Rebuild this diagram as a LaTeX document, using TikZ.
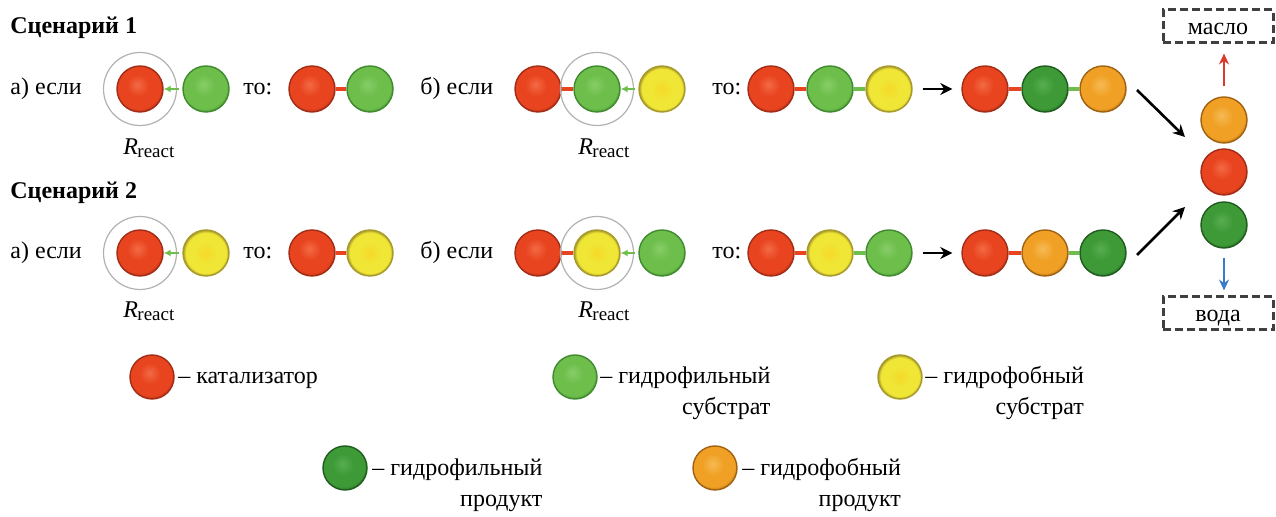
\documentclass[tikz,border=0pt]{standalone}
\usepackage{fontspec}
\setmainfont{Liberation Serif}
\usetikzlibrary{arrows.meta,calc}
\definecolor{cRed}{HTML}{E8441F}
\definecolor{cRedHi}{HTML}{F26A45}
\definecolor{cRedDk}{HTML}{A22C16}
\definecolor{cLG}{HTML}{6DBE4B}
\definecolor{cLGHi}{HTML}{88CD68}
\definecolor{cLGDk}{HTML}{3F8A2E}
\definecolor{cYel}{HTML}{EFE636}
\definecolor{cYelHi}{HTML}{F6D928}
\definecolor{cYelDk}{HTML}{A89A2A}
\definecolor{cDG}{HTML}{3E9A37}
\definecolor{cDGHi}{HTML}{58AD50}
\definecolor{cDGDk}{HTML}{1F5C1E}
\definecolor{cOr}{HTML}{F0A125}
\definecolor{cOrHi}{HTML}{F6BA55}
\definecolor{cOrDk}{HTML}{A06212}
\definecolor{cArR}{HTML}{D93A2A}
\definecolor{cArB}{HTML}{3A7CC8}
\definecolor{cBox}{HTML}{404040}
\pgfdeclareradialshading{shRed}{\pgfpoint{-3bp}{5bp}}{color(0bp)=(cRedHi); color(12bp)=(cRed); color(24bp)=(cRed); color(29bp)=(cRedDk); color(50bp)=(cRedDk)}
\pgfdeclareradialshading{shLG}{\pgfpoint{-3bp}{5bp}}{color(0bp)=(cLGHi); color(12bp)=(cLG); color(24bp)=(cLG); color(29bp)=(cLGDk); color(50bp)=(cLGDk)}
\pgfdeclareradialshading{shYel}{\pgfpoint{0bp}{0bp}}{color(0bp)=(cYelHi); color(12bp)=(cYel); color(22bp)=(cYel); color(25bp)=(cYelDk); color(50bp)=(cYelDk)}
\pgfdeclareradialshading{shDG}{\pgfpoint{-3bp}{5bp}}{color(0bp)=(cDGHi); color(12bp)=(cDG); color(24bp)=(cDG); color(29bp)=(cDGDk); color(50bp)=(cDGDk)}
\pgfdeclareradialshading{shOr}{\pgfpoint{-3bp}{5bp}}{color(0bp)=(cOrHi); color(12bp)=(cOr); color(24bp)=(cOr); color(29bp)=(cOrDk); color(50bp)=(cOrDk)}
\newcommand{\Rreact}{\textit{R}\kern-0.3pt\raisebox{-1.5pt}{\fontsize{9.5}{10}\selectfont react}}
\tikzset{
  ball/.style={circle, minimum size=23pt, inner sep=0pt, line width=0.7pt},
  bred/.style={ball, shading=shRed, draw=cRedDk},
  blg/.style={ball, shading=shLG, draw=cLGDk},
  byel/.style={ball, shading=shYel, draw=cYelDk},
  bdg/.style={ball, shading=shDG, draw=cDGDk},
  bor/.style={ball, shading=shOr, draw=cOrDk},
  small/.style={minimum size=22pt},
  bond/.style={line width=2.2pt},
  rbond/.style={bond, draw=cRed},
  gbond/.style={bond, draw=cLG},
  attr/.style={draw=cLG, line width=1pt, shorten <=1.5pt, -{Latex[length=3.5pt,width=3.5pt]}},
  ring/.style={circle, draw=black!30, line width=0.6pt, minimum size=36.5pt, inner sep=0pt},
  flow/.style={line width=1.3pt, -{Stealth[length=6pt,width=6pt]}},
  vflow/.style={line width=1.4pt, -{Stealth[length=5.5pt,width=5pt]}},
  box/.style={draw=cBox, dash pattern=on 4pt off 2pt, line width=1.5pt, minimum width=55pt, minimum height=16.5pt, inner sep=0pt, text height=8.5pt, text depth=0pt},
  txt/.style={anchor=base west, inner sep=0pt},
  rtxt/.style={anchor=base east, inner sep=0pt},
}
\begin{document}
\begin{tikzpicture}[x=0.5pt, y=-0.5pt, font=\fontsize{12}{14}\selectfont]
\useasboundingbox (0,0) rectangle (1276,517);
% ---------- Scenario 1 ----------
\node[txt] (h1) at (10,34) {\bfseries Сценарий 1};
\node[txt] (a1) at (10,95) {а) если};
\node[bred] (r1a) at (140,89) {};
\node[blg] (g1a) at (206,89) {};
\node[ring] (ring1a) at (r1a.center) {};
\draw[attr] (g1a) -- (r1a);
\node[txt] (rr1a) at (123,155) {\Rreact};
\node[txt] (t1a) at (243,95) {то:};
\node[bred] (r1b) at (312,89) {};
\node[blg] (g1b) at (370,89) {};
\draw[rbond] (r1b) -- (g1b);
\node[txt] (b1) at (420,95) {б) если};
\node[bred] (r1c) at (538,89) {};
\node[blg] (g1c) at (597,89) {};
\node[byel] (y1c) at (662,89) {};
\draw[rbond] (r1c) -- (g1c);
\node[ring] (ring1c) at (g1c.center) {};
\draw[attr] (y1c) -- (g1c);
\node[txt] (rr1c) at (578,155) {\Rreact};
\node[txt] (t1c) at (712,95) {то:};
\node[bred] (r1d) at (771,89) {};
\node[blg] (g1d) at (830,89) {};
\node[byel] (y1d) at (889,89) {};
\draw[rbond] (r1d) -- (g1d);
\draw[gbond] (g1d) -- (y1d);
\node[bred] (r1e) at (985,89) {};
\node[bdg] (d1e) at (1045,89) {};
\node[bor] (o1e) at (1103,89) {};
\draw[rbond] (r1e) -- (d1e);
\draw[gbond] (d1e) -- (o1e);
\draw[flow, shorten <=5pt, shorten >=4.5pt] (y1d) -- (r1e);
% ---------- Scenario 2 ----------
\node[txt] (h2) at (10,199) {\bfseries Сценарий 2};
\node[txt] (a2) at (10,259) {а) если};
\node[bred] (r2a) at (140,253) {};
\node[byel] (y2a) at (206,253) {};
\node[ring] (ring2a) at (r2a.center) {};
\draw[attr] (y2a) -- (r2a);
\node[txt] (rr2a) at (123,318) {\Rreact};
\node[txt] (t2a) at (243,259) {то:};
\node[bred] (r2b) at (312,253) {};
\node[byel] (y2b) at (370,253) {};
\draw[rbond] (r2b) -- (y2b);
\node[txt] (b2) at (420,259) {б) если};
\node[bred] (r2c) at (538,253) {};
\node[byel] (y2c) at (597,253) {};
\node[blg] (g2c) at (662,253) {};
\draw[rbond] (r2c) -- (y2c);
\node[ring] (ring2c) at (y2c.center) {};
\draw[attr] (g2c) -- (y2c);
\node[txt] (rr2c) at (578,318) {\Rreact};
\node[txt] (t2c) at (712,259) {то:};
\node[bred] (r2d) at (771,253) {};
\node[byel] (y2d) at (830,253) {};
\node[blg] (g2d) at (889,253) {};
\draw[rbond] (r2d) -- (y2d);
\draw[gbond] (y2d) -- (g2d);
\node[bred] (r2e) at (985,253) {};
\node[bor] (o2e) at (1045,253) {};
\node[bdg] (d2e) at (1103,253) {};
\draw[rbond] (r2e) -- (o2e);
\draw[gbond] (o2e) -- (d2e);
\draw[flow, shorten <=5pt, shorten >=4.5pt] (g2d) -- (r2e);
% ---------- separation column ----------
\node[bor] (oR) at (1224,120) {};
\node[bred] (rR) at (1224,172) {};
\node[bdg] (dR) at (1224,225) {};
\coordinate (s1) at (1137,90);
\coordinate (e1) at (1185,137);
\coordinate (s2) at (1137,255);
\coordinate (e2) at (1185,207);
\draw[flow] (s1) -- (e1);
\draw[flow] (s2) -- (e2);
\node[box] (oil) at (1218,26.5) {масло};
\node[box] (water) at (1218,313.5) {вода};
\draw[vflow, draw=cArR, shorten <=5pt, shorten >=4.5pt] (oR.north) -- (oR.north |- oil.south);
\draw[vflow, draw=cArB, shorten <=4.5pt, shorten >=2.5pt] (dR.south) -- (dR.south |- water.north);
% ---------- legend ----------
\node[bred, small] (lr) at (152,377) {};
\node[txt] (lrt) at (178,384) {– катализатор};
\node[blg, small] (lg) at (575,377) {};
\node[txt] (lgt) at (600,384) {– гидрофильный};
\node[rtxt] (lgt2) at ($(lgt.base east)+(0,31)$) {субстрат};
\node[byel, small] (ly) at (900,377) {};
\node[txt] (lyt) at (925,384) {– гидрофобный};
\node[rtxt] (lyt2) at ($(lyt.base east)+(0,31)$) {субстрат};
\node[bdg, small] (ld) at (345,468) {};
\node[txt] (ldt) at (372,476) {– гидрофильный};
\node[rtxt] (ldt2) at ($(ldt.base east)+(0,31)$) {продукт};
\node[bor, small] (lo) at (715,468) {};
\node[txt] (lot) at (742,476) {– гидрофобный};
\node[rtxt] (lot2) at ($(lot.base east)+(0,31)$) {продукт};
\end{tikzpicture}
\end{document}
